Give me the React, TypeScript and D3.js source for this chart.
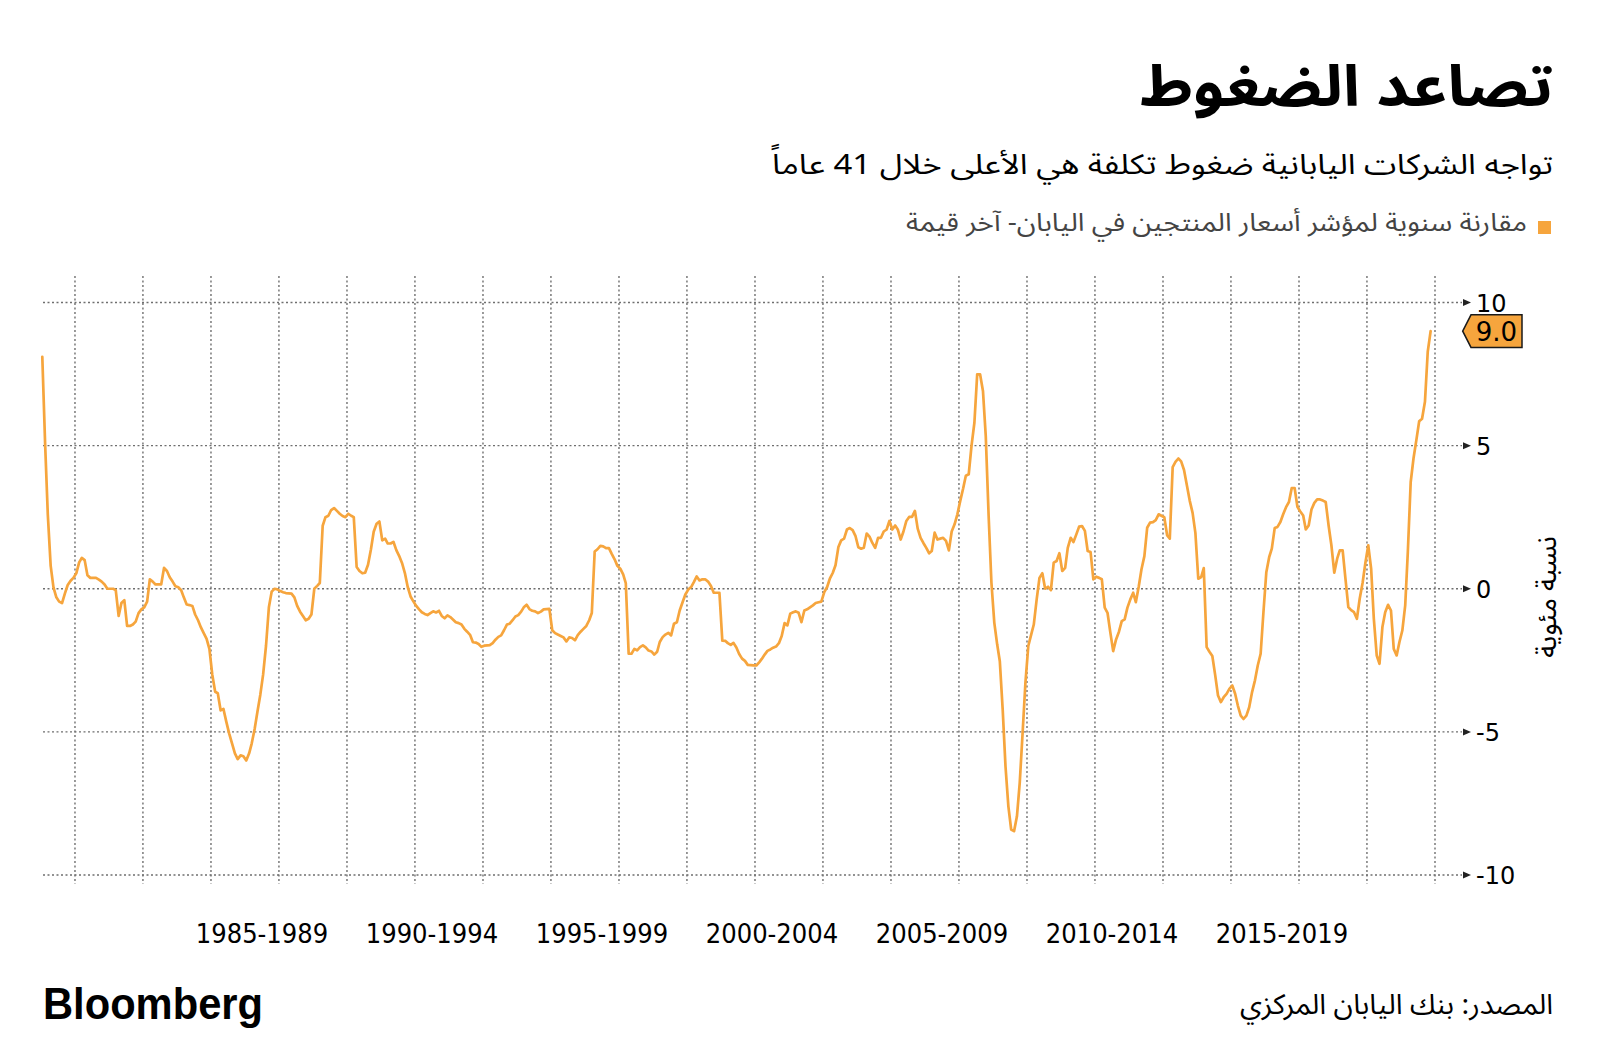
import React from "react";
import * as d3 from "d3";

// ---------- texts ----------
const TITLE = "تصاعد الضغوط";
const SUBTITLE = "تواجه الشركات اليابانية ضغوط تكلفة هي الأعلى خلال 41 عاماً";
const LEGEND = "مقارنة سنوية لمؤشر أسعار المنتجين في اليابان- آخر قيمة";
const SOURCE = "المصدر: بنك اليابان المركزي";
const Y_TITLE = "نسبة مئوية";
const BRAND = "Bloomberg";

// ---------- data: Japan PPI y/y %, monthly from Jan 1981 to Nov 2021 ----------
const START_YEAR = 1981;
const ppiYoY: number[] = [
  /*1981*/ 8.1, 5.0, 2.6, 0.8, 0.05, -0.3, -0.45, -0.5, -0.16, 0.13, 0.28, 0.38,
  /*1982*/ 0.54, 0.92, 1.08, 1.0, 0.47, 0.38, 0.38, 0.38, 0.32, 0.25, 0.15, 0.0,
  /*1983*/ 0.0, 0.0, -0.05, -0.95, -0.5, -0.4, -1.3, -1.3, -1.25, -1.15, -0.85, -0.72,
  /*1984*/ -0.65, -0.45, 0.33, 0.25, 0.15, 0.15, 0.15, 0.73, 0.62, 0.4, 0.25, 0.09,
  /*1985*/ 0.05, -0.05, -0.3, -0.55, -0.57, -0.6, -0.9, -1.1, -1.35, -1.55, -1.75, -2.1,
  /*1986*/ -3.0, -3.6, -3.65, -4.25, -4.2, -4.65, -5.05, -5.4, -5.75, -5.95, -5.82, -5.85,
  /*1987*/ -6.0, -5.75, -5.4, -4.9, -4.3, -3.7, -3.0, -2.0, -0.65, -0.1, 0.0, -0.02,
  /*1988*/ -0.08, -0.12, -0.15, -0.16, -0.17, -0.3, -0.6, -0.8, -0.95, -1.1, -1.05, -0.9,
  /*1989*/ 0.0, 0.1, 0.2, 2.2, 2.5, 2.55, 2.75, 2.82, 2.72, 2.62, 2.54, 2.5,
  /*1990*/ 2.62, 2.55, 2.5, 0.76, 0.62, 0.54, 0.56, 0.84, 1.37, 1.99, 2.27, 2.35,
  /*1991*/ 1.69, 1.75, 1.58, 1.58, 1.64, 1.35, 1.15, 0.9, 0.55, 0.07, -0.27, -0.44,
  /*1992*/ -0.6, -0.72, -0.82, -0.88, -0.92, -0.85, -0.79, -0.83, -0.77, -0.95, -1.03, -0.93,
  /*1993*/ -0.99, -1.08, -1.17, -1.2, -1.25, -1.4, -1.5, -1.61, -1.87, -1.88, -1.93, -2.03,
  /*1994*/ -1.99, -1.98, -1.97, -1.9, -1.78, -1.68, -1.63, -1.45, -1.25, -1.22, -1.1, -0.97,
  /*1995*/ -0.92, -0.8, -0.65, -0.56, -0.71, -0.77, -0.79, -0.85, -0.8, -0.72, -0.71, -0.7,
  /*1996*/ -1.45, -1.55, -1.6, -1.65, -1.7, -1.84, -1.7, -1.72, -1.8, -1.62, -1.5, -1.4,
  /*1997*/ -1.3, -1.1, -0.85, 1.3, 1.38, 1.5, 1.48, 1.42, 1.42, 1.22, 1.03, 0.8,
  /*1998*/ 0.7, 0.5, 0.2, -2.27, -2.27, -2.1, -2.15, -2.04, -1.98, -2.05, -2.16, -2.19,
  /*1999*/ -2.3, -2.2, -1.86, -1.69, -1.6, -1.54, -1.63, -1.22, -1.17, -0.76, -0.47, -0.2,
  /*2000*/ -0.03, 0.06, 0.23, 0.43, 0.29, 0.33, 0.33, 0.25, 0.1, -0.14, -0.14, -0.14,
  /*2001*/ -1.81, -1.82, -1.9, -1.96, -1.89, -2.05, -2.28, -2.44, -2.52, -2.66, -2.67, -2.68,
  /*2002*/ -2.68, -2.57, -2.45, -2.3, -2.17, -2.12, -2.06, -2.02, -1.9, -1.65, -1.2, -1.28,
  /*2003*/ -0.87, -0.82, -0.79, -0.84, -1.17, -0.76, -0.72, -0.65, -0.58, -0.5, -0.47, -0.45,
  /*2004*/ -0.12, 0.06, 0.35, 0.55, 0.82, 1.46, 1.69, 1.75, 2.07, 2.12, 2.05, 1.85,
  /*2005*/ 1.45, 1.4, 1.43, 1.93, 1.82, 1.6, 1.43, 1.78, 1.78, 2.0, 2.07, 2.37,
  /*2006*/ 2.07, 2.21, 2.07, 1.72, 2.0, 2.37, 2.51, 2.51, 2.72, 2.1, 1.78, 1.6,
  /*2007*/ 1.43, 1.24, 1.32, 1.96, 1.72, 1.75, 1.78, 1.67, 1.34, 2.0, 2.25, 2.6,
  /*2008*/ 3.07, 3.5, 3.95, 4.0, 4.99, 5.8, 7.49, 7.49, 6.91, 5.34, 2.54, 0.21,
  /*2009*/ -1.19, -1.95, -2.53, -4.22, -6.2, -7.6, -8.41, -8.47, -7.95, -6.78, -5.03, -3.29,
  /*2010*/ -2.0, -1.6, -1.25, -0.37, 0.38, 0.54, 0.0, 0.07, -0.05, 0.91, 0.97, 1.24,
  /*2011*/ 0.62, 0.73, 1.43, 1.78, 1.63, 1.9, 2.17, 2.19, 2.02, 1.32, 1.28, 0.33,
  /*2012*/ 0.42, 0.38, 0.33, -0.66, -0.84, -1.54, -2.18, -1.77, -1.5, -1.13, -1.07, -0.66,
  /*2013*/ -0.37, -0.14, -0.47, 0.07, 0.68, 1.14, 2.13, 2.31, 2.33, 2.4, 2.6, 2.55,
  /*2014*/ 2.5, 1.86, 1.75, 4.25, 4.43, 4.55, 4.45, 4.15, 3.61, 3.08, 2.65, 1.95,
  /*2015*/ 0.35, 0.41, 0.72, -2.04, -2.2, -2.35, -3.0, -3.73, -3.96, -3.79, -3.67, -3.5,
  /*2016*/ -3.38, -3.67, -4.08, -4.43, -4.55, -4.43, -4.14, -3.61, -3.2, -2.68, -2.27, -0.82,
  /*2017*/ 0.58, 1.11, 1.4, 2.12, 2.16, 2.33, 2.6, 2.85, 3.03, 3.52, 3.52, 2.86,
  /*2018*/ 2.7, 2.56, 2.07, 2.21, 2.77, 3.0, 3.12, 3.12, 3.08, 3.03, 2.21, 1.52,
  /*2019*/ 0.56, 1.05, 1.34, 1.34, 0.35, -0.64, -0.75, -0.82, -1.05, -0.35, 0.2, 0.9,
  /*2020*/ 1.52, 0.7, -1.05, -2.33, -2.62, -1.34, -0.82, -0.56, -0.76, -2.1, -2.33, -1.86,
  /*2021*/ -1.46, -0.58, 1.28, 3.73, 4.55, 5.2, 5.85, 5.94, 6.53, 8.28, 9.0,
];

const yTicks = [10, 5, 0, -5, -10];
const xLabelPeriods: [number, number][] = [
  [1985, 1989], [1990, 1994], [1995, 1999], [2000, 2004],
  [2005, 2009], [2010, 2014], [2015, 2019],
];
const gridYears = d3.range(1982, 2023, 2);
const LAST_LABEL = "9.0";

// ---------- style ----------
const ORANGE = "#f6a53d";
const GRID = "#6f6f6f";
const AR_FONT = "'Noto Sans Arabic', 'DejaVu Sans', sans-serif";
const NUM_FONT = "'DejaVu Sans', sans-serif";
const COND_FONT = "'DejaVu Sans Condensed', 'Liberation Sans Narrow', 'DejaVu Sans', sans-serif";
const RLE = "\u202B";
const PDF = "\u202C";

export default function App() {
  const W = 1600;
  const H = 1063;

  const x = d3
    .scaleUtc()
    .domain([new Date(Date.UTC(1981, 0, 1)), new Date(Date.UTC(2022, 0, 1))])
    .range([41, 1435]);
  const y = d3.scaleLinear().domain([-10, 10]).range([875, 302.5]);

  const data = ppiYoY.map((v, i) => ({ date: new Date(Date.UTC(START_YEAR, i, 15)), v }));
  const line = d3
    .line<{ date: Date; v: number }>()
    .x((d) => x(d.date))
    .y((d) => y(d.v));

  const last = data[data.length - 1];
  const ly = y(last.v);

  const gridLeft = 43;
  const gridRight = 1462;
  const vTop = 276;
  const vBottom = 884;

  return (
    <div style={{ position: "absolute", left: 0, top: 0, width: W, height: H, background: "#fff" }}>
      <svg width={W} height={H} viewBox={`0 0 ${W} ${H}`} style={{ display: "block" }}>
        <rect x={0} y={0} width={W} height={H} fill="#fff" />

        {/* title block */}
        <text x={1553} y={106} textAnchor="end" fontFamily={AR_FONT} fontWeight="bold" fontSize={57}
          textLength={413} lengthAdjust="spacingAndGlyphs" fill="#000">
          {RLE + TITLE + PDF}
        </text>
        <text x={1553} y={174} textAnchor="end" fontFamily={AR_FONT} fontSize={28}
          textLength={781} lengthAdjust="spacingAndGlyphs" fill="#000">
          {RLE + SUBTITLE + PDF}
        </text>
        <rect x={1538} y={221} width={13} height={13} fill={ORANGE} />
        <text x={1527} y={231} textAnchor="end" fontFamily={AR_FONT} fontSize={25}
          textLength={621} lengthAdjust="spacingAndGlyphs" fill="#444">
          {RLE + LEGEND + PDF}
        </text>

        {/* vertical grid */}
        {gridYears.map((yr) => {
          const gx = x(new Date(Date.UTC(yr, 0, 1)));
          return (
            <line key={"v" + yr} x1={gx} x2={gx} y1={vTop} y2={vBottom}
              stroke={GRID} strokeWidth={1.4} strokeDasharray="2 2.5" />
          );
        })}

        {/* horizontal grid + y ticks */}
        {yTicks.map((t) => {
          const gy = y(t);
          return (
            <g key={"h" + t}>
              <line x1={gridLeft} x2={gridRight} y1={gy} y2={gy}
                stroke={GRID} strokeWidth={1.4} strokeDasharray="2 2.5" />
              <path d={`M${gridRight + 1},${gy - 3.5} L${gridRight + 9},${gy} L${gridRight + 1},${gy + 3.5} Z`} fill="#222" />
              <text x={1476} y={gy + 9} fontFamily={NUM_FONT} fontSize={24} fill="#000">
                {String(t)}
              </text>
            </g>
          );
        })}

        {/* y axis title */}
        <text transform="translate(1547,597) rotate(-90)" textAnchor="middle" dominantBaseline="central"
          fontFamily={AR_FONT} fontSize={28} fill="#000">
          {RLE + Y_TITLE + PDF}
        </text>

        {/* series */}
        <path d={line(data) || ""} fill="none" stroke={ORANGE} strokeWidth={2.7}
          strokeLinejoin="round" strokeLinecap="round" />

        {/* last value marker */}
        <path
          d={`M${1462.7},${ly} L${1471},${ly - 16.3} L${1522},${ly - 16.3} L${1522},${ly + 16.3} L${1471},${ly + 16.3} Z`}
          fill={ORANGE} stroke="#1a1a1a" strokeWidth={1.5} />
        <text x={1496.5} y={ly + 9.5} textAnchor="middle" fontFamily={NUM_FONT} fontSize={26} fill="#000">
          {LAST_LABEL}
        </text>

        {/* x labels */}
        {xLabelPeriods.map(([a, b]) => {
          const cx = (x(new Date(Date.UTC(a, 0, 1))) + x(new Date(Date.UTC(b + 1, 0, 1)))) / 2;
          return (
            <text key={a} x={cx} y={943} textAnchor="middle" fontFamily={COND_FONT} fontSize={27} fill="#000">
              {`${a}-${b}`}
            </text>
          );
        })}

        {/* footer */}
        <text x={43} y={1019} fontFamily="'Liberation Sans', Arial, sans-serif" fontWeight="bold" fontSize={44}
          textLength={220} lengthAdjust="spacingAndGlyphs" fill="#000">
          {BRAND}
        </text>
        <text x={1553} y={1014} textAnchor="end" fontFamily={AR_FONT} fontSize={28}
          textLength={313} lengthAdjust="spacingAndGlyphs" fill="#000">
          {RLE + SOURCE + PDF}
        </text>
      </svg>
    </div>
  );
}
